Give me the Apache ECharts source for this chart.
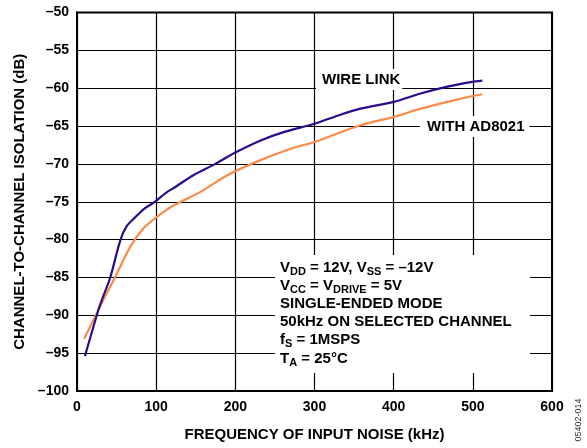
<!DOCTYPE html>
<html>
<head>
<meta charset="utf-8">
<script src="https://cdn.jsdelivr.net/npm/echarts@6/dist/echarts.min.js"></script>
<style>
html,body{margin:0;padding:0;background:#fff;}
#chart{width:587px;height:448px;}
</style>
</head>
<body>
<div id="chart"></div>
<script>
// Frequency of input noise (kHz) and channel-to-channel isolation (dB)
var wireLinkFreq = [10, 27, 32, 42, 55, 63, 74, 84, 97, 114, 122, 147, 173, 200, 232, 261, 300, 330, 358, 400, 434, 468, 497, 512];
var wireLinkIso  = [-95.4, -89.3, -87.8, -85.0, -80.0, -78.2, -77.0, -76.0, -75.1, -73.7, -73.2, -71.5, -70.1, -68.5, -66.9, -65.8, -64.7, -63.6, -62.7, -61.8, -60.7, -59.8, -59.2, -59.0];
var ad8021Freq = [9, 27, 34, 48, 67, 84, 101, 114, 122, 135, 156, 190, 227, 270, 300, 358, 400, 434, 468, 497, 512];
var ad8021Iso  = [-93.1, -89.3, -87.8, -85.0, -81.0, -78.5, -77.0, -76.0, -75.5, -74.8, -73.7, -71.5, -69.7, -68.0, -67.1, -64.9, -63.8, -62.7, -61.8, -61.1, -60.8];
var xTicks = [0, 100, 200, 300, 400, 500, 600];
var yTicks = [-100, -95, -90, -85, -80, -75, -70, -65, -60, -55, -50];
var seriesNames = ['WIRE LINK', 'WITH AD8021'];
var infoLines = [
  'V{sub|DD} = 12V, V{sub|SS} = \u201312V',
  'V{sub|CC} = V{sub|DRIVE} = 5V',
  'SINGLE-ENDED MODE',
  '50kHz ON SELECTED CHANNEL',
  'f{sub|S} = 1MSPS',
  'T{sub|A} = 25\u00B0C'
];

function pairs(xs, ys){ return xs.map(function(x,i){ return [x, ys[i]]; }); }

var FONT = '"Liberation Sans", Arial, Helvetica, sans-serif';
var chart = echarts.init(document.getElementById('chart'), null, {renderer:'canvas'});
chart.setOption({
  animation: false,
  backgroundColor: '#fff',
  grid: {left: 77, right: 35, top: 12.5, bottom: 57, show: true, borderColor: '#000', borderWidth: 2, backgroundColor: 'transparent'},
  xAxis: {
    type: 'value', min: xTicks[0], max: xTicks[xTicks.length-1], interval: 100,
    name: 'FREQUENCY OF INPUT NOISE (kHz)', nameLocation: 'middle', nameGap: 36,
    nameTextStyle: {fontFamily: FONT, fontWeight: 'bold', fontSize: 15, color: '#000'},
    axisLine: {show: true, lineStyle: {color: '#000', width: 2}},
    axisTick: {show: false},
    axisLabel: {fontFamily: FONT, fontWeight: 'bold', fontSize: 14, color: '#000', margin: 9},
    splitLine: {show: true, lineStyle: {color: '#000', width: 1.2}}
  },
  yAxis: {
    type: 'value', min: yTicks[0], max: yTicks[yTicks.length-1], interval: 5,
    name: 'CHANNEL-TO-CHANNEL ISOLATION (dB)', nameLocation: 'middle', nameGap: 46,
    nameTextStyle: {fontFamily: FONT, fontWeight: 'bold', fontSize: 15, color: '#000'},
    axisLine: {show: true, lineStyle: {color: '#000', width: 2}},
    axisTick: {show: false},
    axisLabel: {fontFamily: FONT, fontWeight: 'bold', fontSize: 14, color: '#000', margin: 8,
      formatter: function(v){ return v < 0 ? '\u2013' + Math.abs(v) : String(v); }},
    splitLine: {show: true, lineStyle: {color: '#000', width: 1.2}}
  },
  graphic: [
    {type: 'text', z: 50, left: 316, top: 69,
      style: {text: seriesNames[0], font: 'bold 15px ' + FONT, fill: '#000', backgroundColor: '#fff', padding: [3, 2, 3, 6]}},
    {type: 'text', z: 50, left: 420, top: 116,
      style: {text: seriesNames[1], font: 'bold 15px ' + FONT, fill: '#000', backgroundColor: '#fff', padding: [3, 5, 3, 7]}},
    {type: 'rect', z: 50, shape: {x: 275, y: 255, width: 255, height: 118}, style: {fill: '#fff'}},
    {type: 'text', z: 51, left: 280, top: 258,
      style: {text: infoLines.join('\n'), fontFamily: FONT, fontWeight: 'bold', fontSize: 15, lineHeight: 18.2, fill: '#000',
        rich: {sub: {fontFamily: FONT, fontWeight: 'bold', fontSize: 11, lineHeight: 10, padding: [8, 0, 0, 0], fill: '#000'}}}},
    {type: 'text', z: 50, x: 583, y: 420, rotation: Math.PI/2,
      style: {text: '05402-014', fontFamily: FONT, fontSize: 9, fill: '#333', align: 'center', verticalAlign: 'bottom'}}
  ],
  series: [
    {name: seriesNames[0], type: 'line', data: pairs(wireLinkFreq, wireLinkIso), showSymbol: false, smooth: 0.3, z: 60,
      lineStyle: {color: '#2D0C8C', width: 2.2}},
    {name: seriesNames[1], type: 'line', data: pairs(ad8021Freq, ad8021Iso), showSymbol: false, smooth: 0.3, z: 59,
      lineStyle: {color: '#FA8A4A', width: 2.2}}
  ]
});
</script>
</body>
</html>
